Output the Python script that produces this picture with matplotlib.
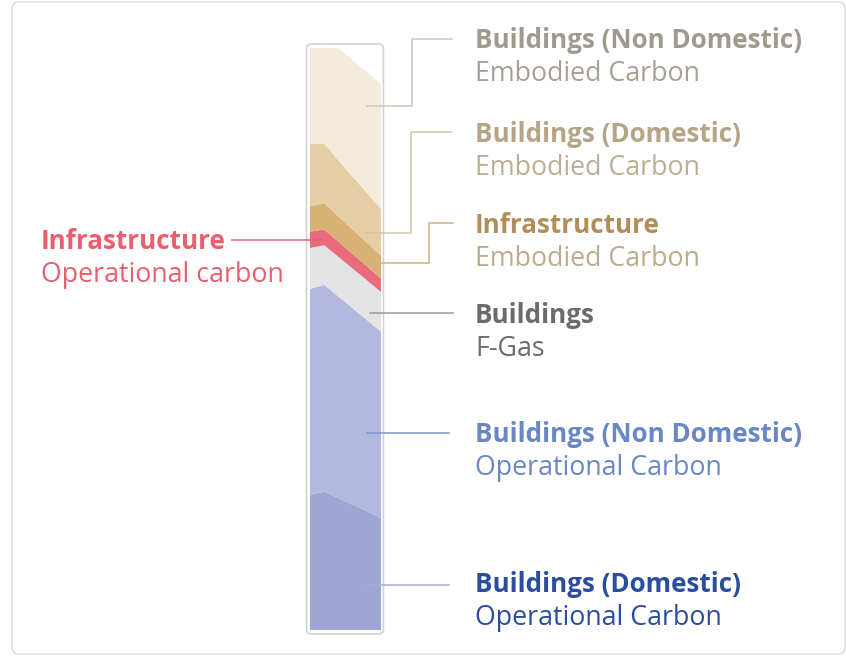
import matplotlib
matplotlib.use("Agg")
import matplotlib.pyplot as plt
from matplotlib.patches import FancyBboxPatch

# x positions of the data points (arbitrary time steps)
steps = [0, 1, 2, 5]

# layer values, bottom to top (share of total, approx)
dom_operational = [23.2, 23.7, 22.6, 19.2]
nondom_operational = [35.2, 35.4, 34.5, 31.9]
fgas = [7.0, 6.8, 6.8, 6.8]
infra_operational = [2.8, 2.7, 2.6, 2.3]
infra_embodied = [4.4, 4.5, 4.3, 3.9]
dom_embodied = [10.6, 10.2, 9.6, 8.0]
nondom_embodied = [16.4, 16.4, 19.2, 21.4]

layers = [dom_operational, nondom_operational, fgas, infra_operational,
          infra_embodied, dom_embodied, nondom_embodied]
layer_colors = ["#9ea6d6", "#b3b8df", "#e4e4e4", "#ea6b7b",
                "#d7b274", "#e5cda5", "#f5ebda"]

W, H = 846, 656
FONT = "Open Sans"
FS_HEAD = 18.7
FS_SUB = 19.3

fig = plt.figure(figsize=(W / 100, H / 100), dpi=100)


def pixel_axes(z):
    a = fig.add_axes([0, 0, 1, 1], zorder=z)
    a.set_xlim(0, W)
    a.set_ylim(H, 0)
    a.axis("off")
    a.patch.set_alpha(0)
    return a


back = pixel_axes(0)
back.add_patch(FancyBboxPatch((12, 2), W - 13, H - 4,
                              boxstyle="round,pad=0,rounding_size=7",
                              fc="white", ec="#dcdcdc", lw=1.0))
back.add_patch(FancyBboxPatch((306.5, 44), 77, 590,
                              boxstyle="round,pad=0,rounding_size=5",
                              fc="white", ec="#d2d2d2", lw=1.2))

# the stacked area itself
ax = fig.add_axes([310 / W, (H - 630) / H, 71 / W, 584 / H], zorder=1)
ax.stackplot(steps, *layers, colors=layer_colors, lw=0)
ax.set_xlim(0, 5)
ax.set_ylim(0, 100)
ax.axis("off")

front = pixel_axes(2)

# labels: (x, bold baseline, bold line, second line, bold colour, second colour)
labels = [
    (475, 48, "Buildings (Non Domestic)", "Embodied Carbon", "#a09a8d", "#a7a194"),
    (475, 142, "Buildings (Domestic)", "Embodied Carbon", "#b5a485", "#bcae94"),
    (475, 233, "Infrastructure", "Embodied Carbon", "#b08e57", "#bcab8c"),
    (475, 323, "Buildings", "F-Gas", "#6b6b6b", "#6b6b6b"),
    (475, 442, "Buildings (Non Domestic)", "Operational Carbon", "#6a86c4", "#6a86c4"),
    (475, 592, "Buildings (Domestic)", "Operational Carbon", "#2b4d9d", "#2b4d9d"),
    (41, 249, "Infrastructure", "Operational carbon", "#e8606f", "#e8606f"),
]
for x, y, head, sub, c1, c2 in labels:
    front.text(x, y, head, fontsize=FS_HEAD, fontweight="bold", color=c1,
               family=FONT, va="baseline", ha="left")
    front.text(x, y + 33, sub, fontsize=FS_SUB, color=c2,
               family=FONT, va="baseline", ha="left")

# leader lines
leaders = [
    ([367, 411.5, 411.5, 452], [106, 106, 38.5, 38.5], "#cbc6bb"),
    ([366, 411, 411, 452], [232.5, 232.5, 131.5, 131.5], "#d6c4a6"),
    ([371, 428.5, 428.5, 453], [262.5, 262.5, 223, 223], "#cfb27f"),
    ([370, 453], [313, 313], "#9a9a9a"),
    ([367, 449], [433, 433], "#7f93c9"),
    ([367, 449], [585, 585], "#a3b0d8"),
    ([232, 322], [239.5, 239.5], "#e8606f"),
]
for xs, ys, c in leaders:
    front.plot(xs, ys, color=c, lw=1.1, solid_joinstyle="round")

fig.savefig("out.png", dpi=100)
